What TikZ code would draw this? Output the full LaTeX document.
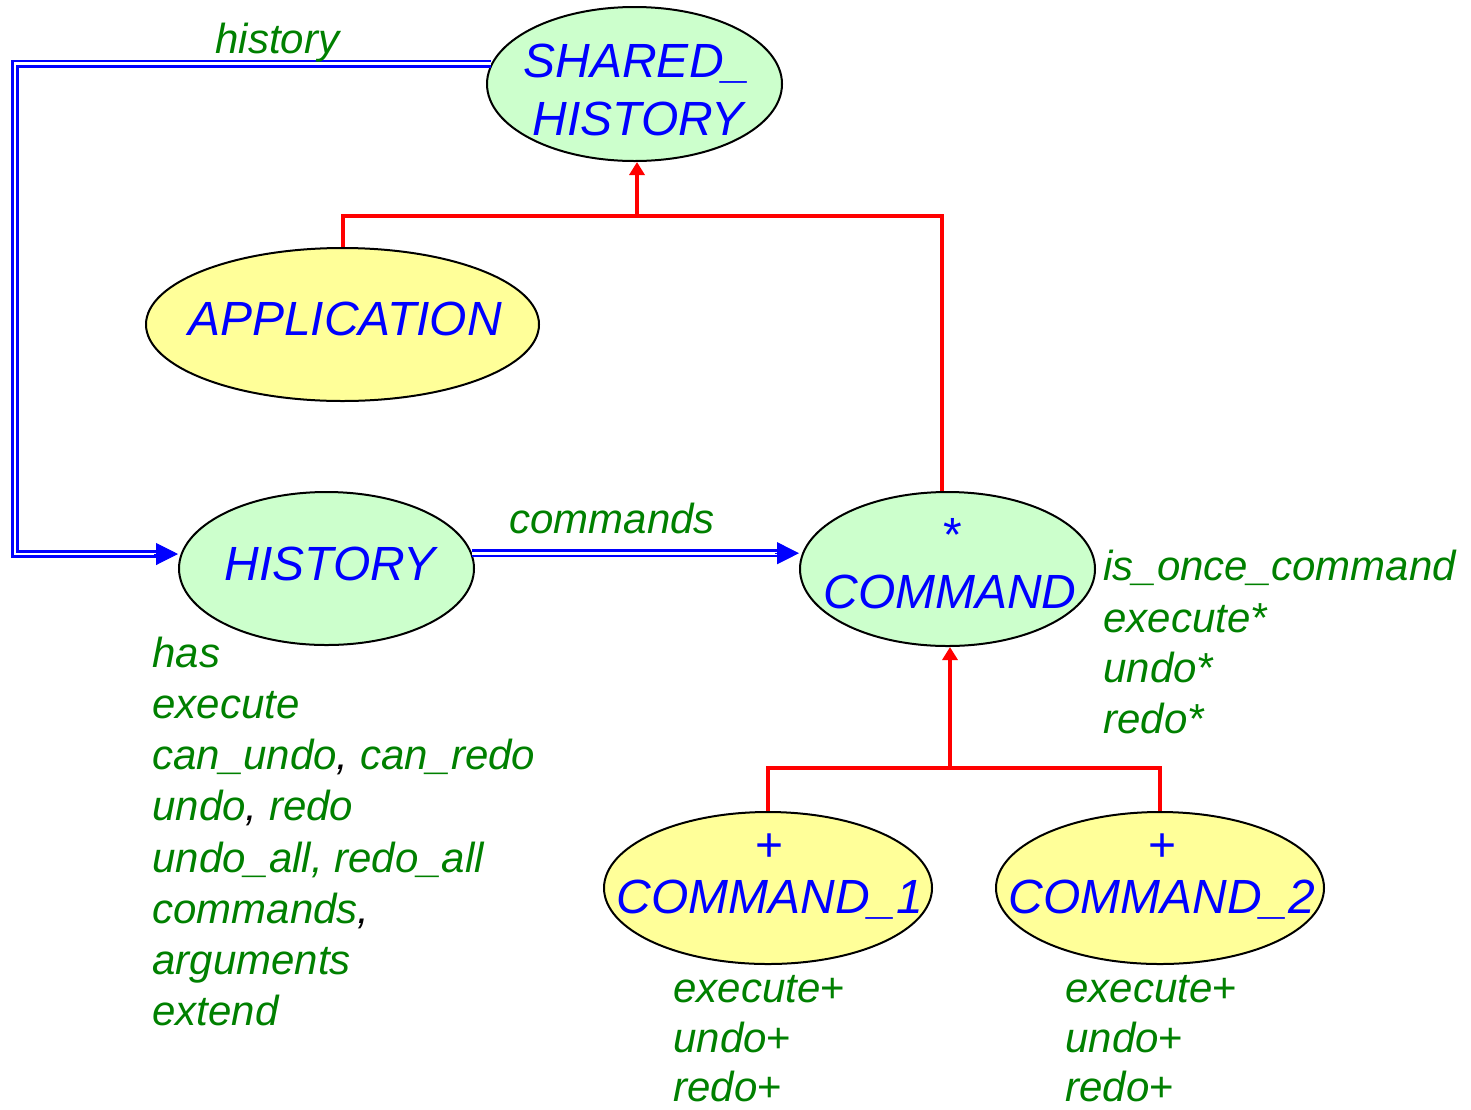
\documentclass[tikz,border=0pt]{standalone}
\usepackage{fontspec}
\setmainfont{Liberation Sans}
\usetikzlibrary{arrows.meta,shapes.geometric}
\definecolor{tblue}{RGB}{0,0,255}
\definecolor{tgreen}{RGB}{0,128,0}
\definecolor{fgreen}{RGB}{204,255,204}
\definecolor{fyellow}{RGB}{255,255,153}
\begin{document}
\begin{tikzpicture}[x=0.5pt,y=-0.5pt,
 cls/.style={ellipse, draw=black, line width=1pt, inner sep=0pt},
 gcls/.style={cls, fill=fgreen},
 ycls/.style={cls, fill=fyellow},
 cname/.style={inner sep=0pt, anchor=base, text=tblue, font=\fontsize{24}{28}\selectfont\itshape},
 cmark/.style={cname, font=\fontsize{24}{28}\selectfont\upshape},
 feat/.style={inner sep=0pt, anchor=base west, text=tgreen, font=\fontsize{21}{25}\selectfont\itshape},
 inh/.style={draw=red, line width=2pt},
 inharr/.style={inh, -{Triangle[length=6.5pt,width=7.5pt]}},
 client/.style={draw=tblue, double=white, line width=1.4pt, double distance=1.4pt},
 ctip/.style={draw=tblue, line width=0.5pt, -{Triangle[length=11pt,width=11pt]}}
]
\useasboundingbox (0,0) rectangle (1471,1109);

% classes
\node[gcls, minimum width=147.5pt, minimum height=77pt] (sh) at (634.5,84) {};
\node[ycls, minimum width=196.5pt, minimum height=76.5pt] (app) at (342.5,324.5) {};
\node[gcls, minimum width=147.5pt, minimum height=76.5pt] (hist) at (326.5,568.5) {};
\node[gcls, minimum width=147.5pt, minimum height=77pt] (cmd) at (947.5,569) {};
\node[ycls, minimum width=164pt, minimum height=76pt] (cmda) at (768,888) {};
\node[ycls, minimum width=164pt, minimum height=76pt] (cmdb) at (1160,888) {};

% class names
\node[cname] (shT1) at (637,77) {SHARED\_};
\node[cname] (shT2) at (638,135) {HISTORY};
\node[cname] (appT) at (345,335) {APPLICATION};
\node[cname] (histT) at (330,580) {HISTORY};
\node[cmark] (cmdS) at (953,551) {*};
\node[cname] (cmdT) at (950,608) {COMMAND};
\node[cmark] (cmdaP) at (770,861) {+};
\node[cname] (cmdaT) at (770,913) {COMMAND\_1};
\node[cmark] (cmdbP) at (1162,861) {+};
\node[cname] (cmdbT) at (1162,913) {COMMAND\_2};

% inheritance
\coordinate (j1) at (637,216);
\draw[inh] (app.north) |- (j1) -| (cmd.94);
\draw[inharr] (j1) -- (j1 |- sh.south);
\coordinate (j2) at (950,768);
\draw[inharr] (j2) -- (j2 |- cmd.south);
\draw[inh] (cmda.north) |- (j2) -| (cmdb.north);

% client links
\coordinate (ca) at (15,64);
\coordinate (cb) at (15,554);
\coordinate (hin) at (cb -| hist.west);
\draw[client, shorten >=11pt] (sh.172) -- (sh.172 -| ca) -- (cb) -- (hin);
\draw[ctip] ([xshift=-12pt]hin) -- (hin);
\coordinate (cin) at (hist.6 -| cmd.west);
\draw[client, shorten >=11pt] (hist.6) -- (cin);
\draw[ctip] ([xshift=-12pt]cin) -- (cin);

% labels
\node[feat] (lhist) at (215,53) {history};
\node[feat] (lcmds) at (509,533) {commands};

% HISTORY features
\node[feat] (hf1) at (152,667) {has};
\node[feat] (hf2) at (152,718) {execute};
\node[feat] (hf3) at (152,769) {can\_undo{\color{black},} can\_redo};
\node[feat] (hf4) at (152,820) {undo{\color{black},} redo};
\node[feat] (hf5) at (152,872) {undo\_all, redo\_all};
\node[feat] (hf6) at (152,923) {commands{\color{black},}};
\node[feat] (hf7) at (152,974) {arguments};
\node[feat] (hf8) at (152,1025) {extend};

% COMMAND features
\node[feat] (cf1) at (1103,580) {is\_once\_command};
\node[feat] (cf2) at (1103,632) {execute*};
\node[feat] (cf3) at (1103,682) {undo*};
\node[feat] (cf4) at (1103,733) {redo*};

% COMMAND_1 features
\node[feat] (af1) at (673,1002) {execute\textup{+}};
\node[feat] (af2) at (673,1052) {undo\textup{+}};
\node[feat] (af3) at (673,1101) {redo\textup{+}};

% COMMAND_2 features
\node[feat] (bf1) at (1065,1002) {execute\textup{+}};
\node[feat] (bf2) at (1065,1052) {undo\textup{+}};
\node[feat] (bf3) at (1065,1101) {redo\textup{+}};
\end{tikzpicture}
\end{document}
